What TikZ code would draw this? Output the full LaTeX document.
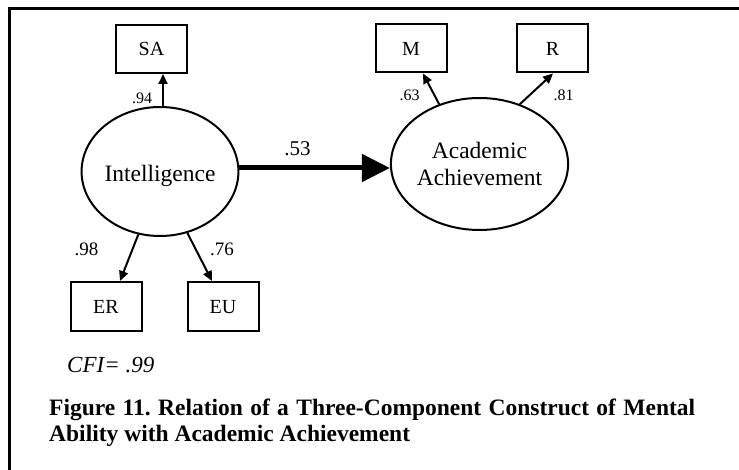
\documentclass[tikz,border=0pt]{standalone}
\usepackage{fontspec}
\setmainfont{Liberation Serif}
\usetikzlibrary{shapes.geometric,arrows.meta}
\frenchspacing
\begin{document}
\begin{tikzpicture}[x=1pt,y=-1pt,
  frameline/.style={line width=3pt},
  obsbox/.style={draw,line width=2pt,rectangle,minimum width=71pt,minimum height=48pt,inner sep=0pt,text height=13.2pt,text depth=0pt,font=\fontsize{20}{24}\selectfont},
  latent/.style={draw,line width=2pt,ellipse,inner sep=0pt,font=\fontsize{23.5}{27}\selectfont},
  load/.style={-{Triangle[length=10pt,width=9pt]},line width=2pt},
  coef/.style={inner sep=0pt},
  small/.style={coef,font=\fontsize{16}{18}\selectfont},
  mid/.style={coef,font=\fontsize{19}{22}\selectfont},
  captext/.style={coef,anchor=base west,font=\fontsize{23.5}{26}\selectfont\bfseries},
]
\useasboundingbox (0,0) rectangle (739,470);

% border of the figure panel
\coordinate (tl) at (9.5,9);
\coordinate (tr) at (739,9);
\coordinate (bl) at (9.5,470);
\draw[frameline] (tr) -- ([xshift=-1.5pt]tl) (tl) -- (bl);

% observed indicators
\node[obsbox] (SA) at (151.5,49) {SA};
\node[obsbox] (M)  at (411,48.5) {M};
\node[obsbox] (R)  at (552.5,48.5) {R};
\node[obsbox,minimum height=49pt] (ER) at (106,306.5) {ER};
\node[obsbox,minimum height=49pt] (EU) at (223,306.5) {EU};

% latent constructs
\node[latent,minimum width=152pt,minimum height=129pt,text height=21pt,text depth=0pt] (Int) at (160,171.5) {Intelligence};
\node[latent,minimum width=153pt,minimum height=132pt,align=center] (AA) at (479.5,164) {Academic\\Achievement};

% factor loadings
\draw[load] ([xshift=3pt]Int.north) -- ([xshift=11.5pt]SA.south);
\draw[load] (Int.251.7) -- ([xshift=14pt]ER.north);
\draw[load] (Int.294.5) -- ([xshift=-11pt]EU.north);
\draw[load] (AA.124.7) -- ([xshift=12pt]M.south);
\draw[load] (AA.56) -- ([xshift=0.5pt]R.south);

% structural path
\draw[-{Triangle[length=28pt,width=27pt]},line width=5pt] ([yshift=3.5pt]Int.east) -- ([yshift=-4pt]AA.west);

% coefficients
\node[small] (l94) at (142,98) {.94};
\node[small] (l63) at (409.5,95.5) {.63};
\node[small] (l81) at (563.5,95.5) {.81};
\node[mid] (l98) at (86.5,249.5) {.98};
\node[mid] (l76) at (222,249.5) {.76};
\node[coef,font=\fontsize{21}{24}\selectfont] (l53) at (297.5,149) {.53};

% fit index and caption
\node[coef,anchor=base west,font=\fontsize{23}{26}\selectfont\itshape] (cfi) at (67,372) {CFI= .99};
\node[captext] (cap1) at (49,415) {\hbox to 646pt{Figure 11. Relation of a Three-Component Construct of Mental}};
\node[captext] (cap2) at (49,441) {Ability with Academic Achievement};
\end{tikzpicture}
\end{document}
